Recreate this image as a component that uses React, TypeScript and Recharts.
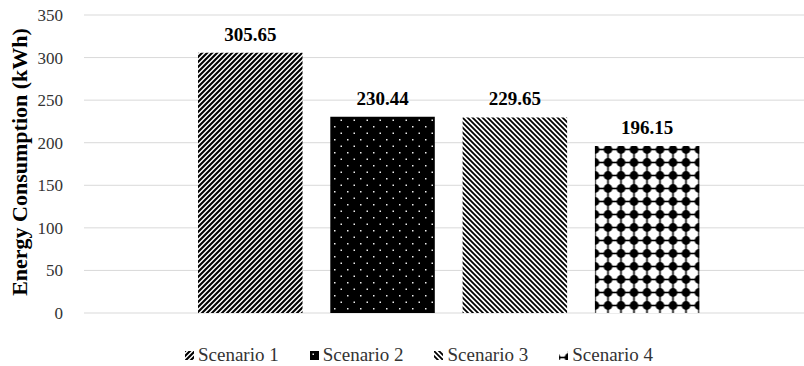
import { Bar, BarChart, CartesianGrid, LabelList, Legend, XAxis, YAxis } from 'recharts'

const scenarios = ['Scenario 1', 'Scenario 2', 'Scenario 3', 'Scenario 4']
const consumption = [305.65, 230.44, 229.65, 196.15]
const yTicks = [0, 50, 100, 150, 200, 250, 300, 350]
const patternIds = ['pat-up', 'pat-dots', 'pat-down', 'pat-blobs']

const row: Record<string, string | number> = { name: 'Energy' }
scenarios.forEach((s, i) => {
  row[s] = consumption[i]
})
const data = [row]

const FONT = '"Liberation Serif", "Times New Roman", serif'

// Excel-ish fill patterns
const Patterns = () => (
  <defs>
    <pattern id="pat-up" width="5" height="5" patternUnits="userSpaceOnUse">
      <rect width="5" height="5" fill="#fff" />
      <path d="M-1,1 L1,-1 M0,5 L5,0 M4,6 L6,4" stroke="#000" strokeWidth="2.1" />
    </pattern>
    <pattern id="pat-down" width="5" height="5" patternUnits="userSpaceOnUse">
      <rect width="5" height="5" fill="#fff" />
      <path d="M-1,4 L1,6 M0,0 L5,5 M4,-1 L6,1" stroke="#000" strokeWidth="1.8" />
    </pattern>
    <pattern id="pat-dots" width="13" height="13" patternUnits="userSpaceOnUse">
      <rect width="13" height="13" fill="#000" />
      <rect x="2.5" y="2.5" width="1.5" height="1.5" fill="#eee" />
      <rect x="9" y="9" width="1.5" height="1.5" fill="#eee" />
    </pattern>
    <pattern id="pat-blobs" x="3.5" y="0" width="13" height="13" patternUnits="userSpaceOnUse">
      <rect width="13" height="13" fill="#fff" />
      <circle cx="6.5" cy="6.5" r="4.4" fill="#000" />
      <rect x="0" y="5.7" width="13" height="1.6" fill="#000" />
      <rect x="5.7" y="0" width="1.6" height="13" fill="#000" />
    </pattern>
  </defs>
)

const renderLegend = () => (
  <div style={{ display: 'flex', gap: 31, fontFamily: FONT, fontSize: 19, color: '#333', lineHeight: '20px' }}>
    {scenarios.map((s, i) => (
      <div key={s} style={{ display: 'flex', alignItems: 'center', gap: 4 }}>
        <svg width="9" height="9">
          <rect width="9" height="9" fill={`url(#${patternIds[i]})`} />
        </svg>
        <span>{s}</span>
      </div>
    ))}
  </div>
)

const renderValue = (props: any) => {
  const { x, y, width, value } = props
  return (
    <text
      x={Number(x) + Number(width) / 2}
      y={Number(y) - 12}
      textAnchor="middle"
      fontFamily={FONT}
      fontSize={19}
      fontWeight="bold"
      fill="#000"
    >
      {Number(value).toFixed(2)}
    </text>
  )
}

const renderTitle = () => (
  <text
    transform="translate(27,162) rotate(-90)"
    textAnchor="middle"
    fontFamily={FONT}
    fontSize={22}
    fontWeight="bold"
    fill="#000"
  >
    Energy Consumption (kWh)
  </text>
)

export default function App() {
  return (
    <div style={{ position: 'absolute', left: 0, top: 0, background: '#fff' }}>
      <BarChart
        width={804}
        height={366}
        data={data}
        margin={{ top: 15, right: 0, bottom: 53, left: 0 }}
        barGap={27.8}
      >
        <Patterns />
        <CartesianGrid vertical={false} stroke="#d9d9d9" />
        <XAxis dataKey="name" hide padding={{ left: 9, right: 0 }} />
        <YAxis
          width={84}
          domain={[0, 350]}
          ticks={yTicks}
          axisLine={false}
          tickLine={false}
          tickSize={0}
          tickMargin={21}
          tick={{ fontFamily: FONT, fontSize: 17, fill: '#333' }}
          label={{ content: renderTitle }}
        />
        <Legend
          layout="horizontal"
          verticalAlign="middle"
          align="center"
          content={renderLegend}
          wrapperStyle={{ top: 345, left: 185, width: 'auto' }}
        />
        {scenarios.map((s, i) => (
          <Bar key={s} dataKey={s} barSize={104.5} fill={`url(#${patternIds[i]})`} isAnimationActive={false}>
            <LabelList dataKey={s} content={renderValue} />
          </Bar>
        ))}
      </BarChart>
    </div>
  )
}
